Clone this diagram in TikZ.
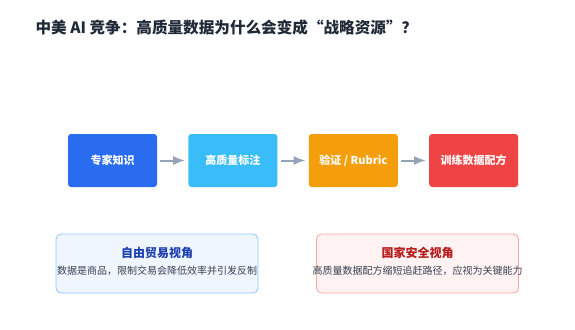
\documentclass[tikz,border=0pt]{standalone}
\usepackage{fontspec}
\setmainfont{Noto Sans CJK SC}
\usepackage{xcolor}
\usepackage{tikz}
\usetikzlibrary{arrows.meta,positioning,calc}
\definecolor{titlecol}{HTML}{1F2937}
\definecolor{expertcol}{HTML}{2A6CF0}
\definecolor{labelcol}{HTML}{38BDF8}
\definecolor{verifycol}{HTML}{F59E0B}
\definecolor{recipecol}{HTML}{EF4444}
\definecolor{arrowcol}{HTML}{94A3B8}
\definecolor{tradefill}{HTML}{EFF6FF}
\definecolor{tradeline}{HTML}{93C5FD}
\definecolor{tradetext}{HTML}{1E40AF}
\definecolor{securefill}{HTML}{FEF2F2}
\definecolor{secureline}{HTML}{FCA5A5}
\definecolor{securetext}{HTML}{B91C1C}
\definecolor{bodycol}{HTML}{374151}

\begin{document}
\begin{tikzpicture}[x=1pt,y=-1pt,>=Latex,node distance=31pt]
  \tikzstyle{stage}=[rounded corners=3pt,align=center,minimum width=89pt,minimum height=53pt,text=white,font=\fontsize{11}{13}\selectfont\bfseries]
  \tikzstyle{view}=[draw,rounded corners=5pt,line width=0.8pt,minimum width=202pt,minimum height=59pt]
  \tikzstyle{flow}=[->,arrowcol,line width=2pt,shorten <=3pt,shorten >=3pt]
  \useasboundingbox[fill=white] (0,0) rectangle (575,329);
  \node[anchor=west,text=titlecol,font=\fontsize{15.6}{18}\selectfont\bfseries] (title) at (32,28) {中美 AI 竞争：高质量数据为什么会变成“战略资源”？};
  % pipeline
  \node[stage,fill=expertcol] (expert) at (112.5,160.5) {专家知识};
  \node[stage,fill=labelcol,right=of expert] (label) {高质量标注};
  \node[stage,fill=verifycol,right=of label] (verify) {验证 / Rubric};
  \node[stage,fill=recipecol,right=of verify] (recipe) {训练数据配方};
  \draw[flow] (expert) -- (label);
  \draw[flow] (label) -- (verify);
  \draw[flow] (verify) -- (recipe);
  % two views
  \node[view,draw=tradeline,fill=tradefill] (trade) at (157,263.5) {};
  \node[text=tradetext,font=\fontsize{12}{14}\selectfont\bfseries] (tradehead) at ([yshift=11pt]trade.center) {自由贸易视角};
  \node[text=bodycol,font=\fontsize{10}{12}\selectfont] (tradebody) at ([yshift=-7.5pt]trade.center) {数据是商品，限制交易会降低效率并引发反制};
  \node[view,draw=secureline,fill=securefill] (secure) at (417.5,263.5) {};
  \node[text=securetext,font=\fontsize{12}{14}\selectfont\bfseries] (securehead) at ([yshift=11pt]secure.center) {国家安全视角};
  \node[text=bodycol,font=\fontsize{10}{12}\selectfont] (securebody) at ([yshift=-7.5pt]secure.center) {高质量数据配方缩短追赶路径，应视为关键能力};
\end{tikzpicture}
\end{document}
